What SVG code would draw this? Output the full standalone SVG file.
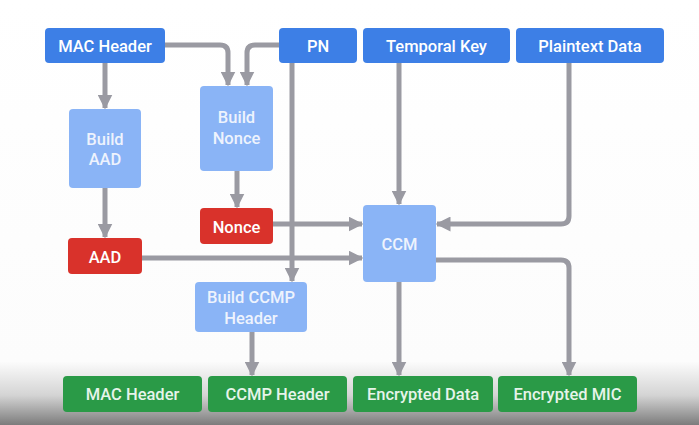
<svg xmlns="http://www.w3.org/2000/svg" width="699" height="425" viewBox="0 0 699 425">
<defs>
<linearGradient id="bg" x1="0" y1="0" x2="0" y2="1">
<stop offset="0" stop-color="#ffffff"/>
<stop offset="0.85" stop-color="#fcfcfc"/>
<stop offset="0.93" stop-color="#d4d4d4"/>
<stop offset="1" stop-color="#7c7c7c"/>
</linearGradient>
<marker id="ah" viewBox="0 0 10 10" refX="9" refY="5" markerWidth="3" markerHeight="3" orient="auto" markerUnits="strokeWidth">
<path d="M0,0 L10,5 L0,10 z" fill="#9a9aa2"/>
</marker>
<style>
.dk rect{fill:#3d7fe6}
.lt rect{fill:#8ab4f6}
.rd rect{fill:#d9322b}
.gr rect{fill:#2a9a47}
text{font-family:Roboto,"Liberation Sans",sans-serif;font-size:16.5px;font-weight:500;fill:#ffffff;text-anchor:middle;dominant-baseline:central}
.gr text{fill:#e6f4ea}
.lt text{fill:#eef3fd}
#conn path{fill:none;stroke:#9a9aa2;stroke-width:5;marker-end:url(#ah);stroke-linejoin:round}
</style>
</defs>
<rect x="0" y="0" width="699" height="425" fill="url(#bg)"/>
<g id="conn">
<path d="M105,63 V108"/>
<path d="M105,188 V237"/>
<path d="M165,45 H220 Q228,45 228,53 V85"/>
<path d="M279,45 H255 Q247,45 247,53 V85"/>
<path d="M237,171 V207"/>
<path d="M292,63 V281"/>
<path d="M273,224 H362"/>
<path d="M142,258 H362"/>
<path d="M399,63 V204"/>
<path d="M569,63 V216 Q569,224 561,224 H437"/>
<path d="M436,260 H561 Q569,260 569,268 V375"/>
<path d="M399,282 V375"/>
<path d="M252,332 V375"/>
</g>
<g id="mac-header" class="dk"><rect x="45" y="28" width="120" height="35" rx="4"/><text x="105" y="46">MAC Header</text></g>
<g id="pn" class="dk"><rect x="279" y="28" width="78" height="35" rx="4"/><text x="318" y="46">PN</text></g>
<g id="temporal-key" class="dk"><rect x="363" y="28" width="147" height="35" rx="4"/><text x="436.5" y="46">Temporal Key</text></g>
<g id="plaintext-data" class="dk"><rect x="516" y="28" width="148" height="35" rx="4"/><text x="590" y="46">Plaintext Data</text></g>
<g id="build-aad" class="lt"><rect x="69" y="109" width="72" height="79" rx="4"/><text x="105" y="139">Build</text><text x="105" y="159">AAD</text></g>
<g id="build-nonce" class="lt"><rect x="200" y="86" width="73" height="85" rx="4"/><text x="236.5" y="117">Build</text><text x="236.5" y="138">Nonce</text></g>
<g id="nonce" class="rd"><rect x="200" y="208" width="73" height="36" rx="4"/><text x="236.5" y="227">Nonce</text></g>
<g id="aad" class="rd"><rect x="68" y="238" width="74" height="36" rx="4"/><text x="105" y="257">AAD</text></g>
<g id="ccm" class="lt"><rect x="363" y="205" width="73" height="77" rx="4"/><text x="399.5" y="244">CCM</text></g>
<g id="build-ccmp-header" class="lt"><rect x="195" y="282" width="112" height="50" rx="4"/><text x="251" y="297">Build CCMP</text><text x="251" y="318">Header</text></g>
<g id="out-mac-header" class="gr"><rect x="63" y="376" width="139" height="36" rx="4"/><text x="132.5" y="394">MAC Header</text></g>
<g id="out-ccmp-header" class="gr"><rect x="208" y="376" width="139" height="36" rx="4"/><text x="277.5" y="394">CCMP Header</text></g>
<g id="encrypted-data" class="gr"><rect x="353" y="376" width="140" height="36" rx="4"/><text x="423" y="394">Encrypted Data</text></g>
<g id="encrypted-mic" class="gr"><rect x="498" y="376" width="139" height="36" rx="4"/><text x="567.5" y="394">Encrypted MIC</text></g>
</svg>
